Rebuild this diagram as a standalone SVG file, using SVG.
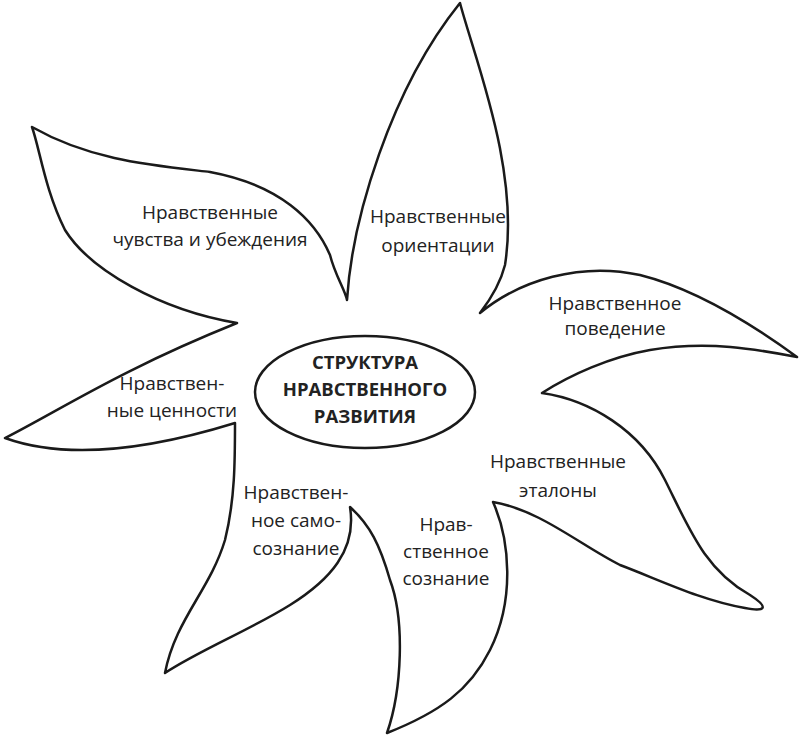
<svg xmlns="http://www.w3.org/2000/svg" width="800" height="735" viewBox="0 0 800 735">
<style>
.o{fill:#fff;stroke:#1a1a1a;stroke-width:2.5;stroke-linejoin:round}
.t{font-family:"Open Sans","DejaVu Sans",sans-serif;font-size:19px;fill:#222;text-anchor:middle}
.b{font-family:"Open Sans","DejaVu Sans",sans-serif;font-size:18.5px;font-weight:bold;fill:#222;text-anchor:middle}
</style>
<rect width="800" height="735" fill="#fff"/>
<g id="flower">
<path class="o" d="M347,300 C352,220 390,90 460,3 C475,60 520,170 505,265 C500,285 490,300 480,313 C520,280 580,262 640,275 C700,290 760,330 797,357 C760,350 710,340 650,350 C610,357 570,375 542,393 C590,400 640,430 665,480 C690,530 705,570 750,595 C770,608 765,612 745,608 C700,600 660,580 620,565 C580,545 540,510 493,502 C510,540 515,600 490,650 C470,690 440,712 387,733 C402,690 405,620 390,580 C380,545 370,525 350,507 C357,550 330,580 290,605 C250,630 200,650 165,673 C175,620 210,590 225,540 C235,500 235,460 235,423 C180,440 80,465 5,438 C60,410 120,370 237,323 C160,310 90,270 65,230 C45,190 40,150 32,127 C90,160 150,165 210,172 C280,185 315,220 330,255 C335,275 345,290 347,300 Z"/>
</g>
<g id="center">
<ellipse class="o" cx="365" cy="392" rx="110" ry="56"/>
<text class="b" x="365" y="369">СТРУКТУРА</text>
<text class="b" x="365" y="396">НРАВСТВЕННОГО</text>
<text class="b" x="365" y="423">РАЗВИТИЯ</text>
</g>
<g id="p1"><text class="t" x="210" y="219">Нравственные</text><text class="t" x="210" y="246">чувства и убеждения</text></g>
<g id="p2"><text class="t" x="438" y="223">Нравственные</text><text class="t" x="438" y="252">ориентации</text></g>
<g id="p3"><text class="t" x="615" y="310">Нравственное</text><text class="t" x="615" y="335">поведение</text></g>
<g id="p4"><text class="t" x="172" y="390">Нравствен-</text><text class="t" x="172" y="417">ные ценности</text></g>
<g id="p5"><text class="t" x="558" y="468">Нравственные</text><text class="t" x="558" y="497">эталоны</text></g>
<g id="p6"><text class="t" x="296" y="499">Нравствен-</text><text class="t" x="296" y="527">ное само-</text><text class="t" x="296" y="555">сознание</text></g>
<g id="p7"><text class="t" x="446" y="531">Нрав-</text><text class="t" x="446" y="558">ственное</text><text class="t" x="446" y="585">сознание</text></g>
<g id="connectors"/>
</svg>
